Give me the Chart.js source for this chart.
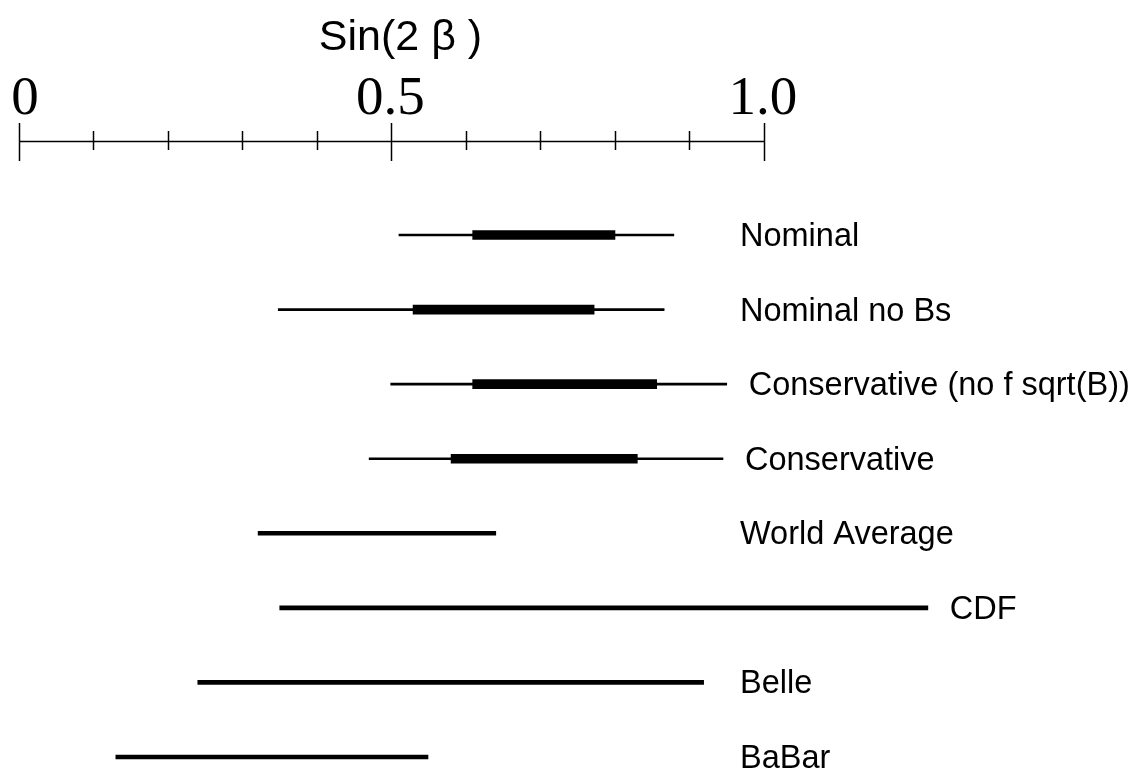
<!DOCTYPE html>
<html>
<head>
<meta charset="utf-8">
<script src="https://cdn.jsdelivr.net/npm/chart.js@4"></script>
<style>
  body { margin: 0; background: #fff; }
  #wrap { width: 1135px; height: 769px; }
</style>
</head>
<body>
<div id="wrap"><canvas id="sinChart"></canvas></div>
<script>
const labels = ['Nominal', 'Nominal no Bs', 'Conservative (no f sqrt(B))', 'Conservative',
                'World Average', 'CDF', 'Belle', 'BaBar'];
// outer (thin) and inner (thick) error ranges
const outerRange = [[0.510, 0.879], [0.348, 0.866], [0.499, 0.950], [0.470, 0.945], null, null, null, null];
const innerRange = [[0.609, 0.800], [0.529, 0.772], [0.609, 0.856], [0.580, 0.830], null, null, null, null];
// single measurement ranges
const singleRange = [null, null, null, null, [0.321, 0.640], [0.350, 1.220], [0.240, 0.919], [0.130, 0.549]];
const tickValues = [0, 0.5, 1.0];
const tickLabels = ['0', '0.5', '1.0'];
const minorStep = 0.1;
const axisTitle = 'Sin(2 \u03b2 )';

const axisPlugin = {
  id: 'topAxis',
  afterDraw(chart) {
    const ctx = chart.ctx;
    const xs = chart.scales.x;
    const ys = chart.scales.y;
    const axisY = 141.5;
    ctx.save();
    ctx.strokeStyle = '#000';
    ctx.lineWidth = 1.5;
    ctx.beginPath();
    ctx.moveTo(xs.getPixelForValue(0), axisY);
    ctx.lineTo(xs.getPixelForValue(1), axisY);
    ctx.stroke();
    for (let i = 0; i <= 10; i++) {
      const v = i * minorStep;
      const px = Math.round(xs.getPixelForValue(v)) + 0.5;
      const major = (i % 5 === 0);
      ctx.beginPath();
      ctx.moveTo(px, major ? 123 : 131);
      ctx.lineTo(px, major ? 161 : 150);
      ctx.stroke();
    }
    ctx.fillStyle = '#000';
    ctx.font = '55px "Liberation Serif", "Times New Roman", serif';
    ctx.textAlign = 'center';
    ctx.textBaseline = 'alphabetic';
    tickValues.forEach((v, i) => {
      ctx.fillText(tickLabels[i], xs.getPixelForValue(v) + (i === 0 ? 6 : -1), 114);
    });
    ctx.font = '43px "Liberation Sans", Arial, sans-serif';
    ctx.fillText(axisTitle, xs.getPixelForValue(0.5) + 9, 50);

    // row labels at the right of each line
    ctx.font = '32.5px "Liberation Sans", Arial, sans-serif';
    ctx.textAlign = 'left';
    labels.forEach((lab, i) => {
      const r = outerRange[i] || singleRange[i];
      const endPx = xs.getPixelForValue(r[1]);
      const x = Math.max(740, endPx + 22);
      ctx.fillText(lab, x, ys.getPixelForValue(i) + 11);
    });
    ctx.restore();
  }
};

const ctx = document.getElementById('sinChart').getContext('2d');
const sinChart = new Chart(ctx, {
  type: 'bar',
  data: {
    labels: labels,
    datasets: [
      { label: 'outer', data: outerRange, backgroundColor: '#000', barThickness: 2, grouped: false, clip: false },
      { label: 'inner', data: innerRange, backgroundColor: '#000', barThickness: 9, grouped: false, clip: false },
      { label: 'single', data: singleRange, backgroundColor: '#000', barThickness: 4, grouped: false, clip: false }
    ]
  },
  options: {
    indexAxis: 'y',
    responsive: true,
    maintainAspectRatio: false,
    animation: false,
    layout: { padding: { top: 235, bottom: 12, left: 19, right: 6 } },
    plugins: { legend: { display: false }, tooltip: { enabled: false } },
    scales: {
      x: { type: 'linear', min: 0, max: 1.49, display: false },
      y: { type: 'category', offset: false, display: false }
    }
  },
  plugins: [axisPlugin]
});
</script>
</body>
</html>
